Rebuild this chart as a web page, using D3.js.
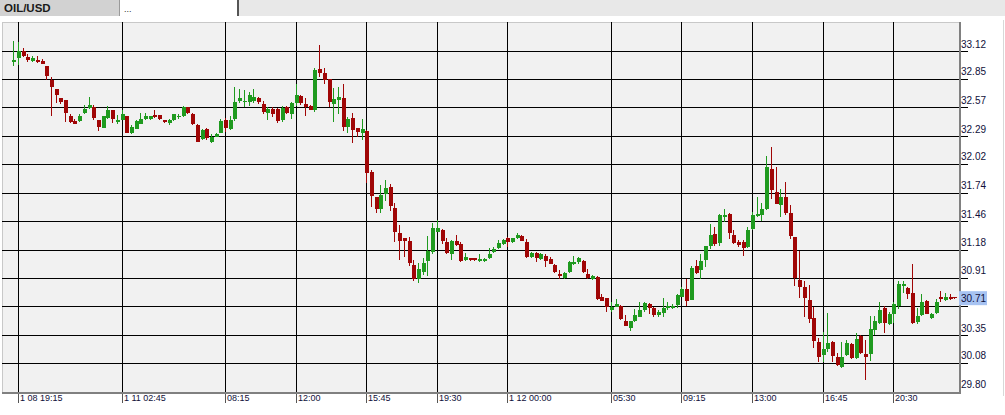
<!DOCTYPE html>
<html>
<head>
<meta charset="utf-8">
<script src="https://cdn.jsdelivr.net/npm/d3@7"></script>
<style>
html,body{margin:0;padding:0;background:#fff;}
svg{display:block;}
text{font-family:"Liberation Sans",Arial,sans-serif;}
</style>
</head>
<body>
<svg id="chart" width="1005" height="415"></svg>
<script>
const symbol = "OIL/USD";
const currentPrice = 30.71;
const yTickValues = [33.12, 32.85, 32.57, 32.29, 32.02, 31.74, 31.46, 31.18, 30.91, 30.63, 30.35, 30.08, 29.80];
const xTickIndex = [1, 23, 45, 60, 75, 90, 105, 127, 142, 157, 172, 187];
const xTickLabels = ["1 08 19:15", "1 11 02:45", "08:15", "12:00", "15:45", "19:30", "1 12 00:00", "05:30", "09:15", "13:00", "16:45", "20:30"];

const opens = [33.01,33.05,33.12,33.06,33.02,33.03,33.02,32.97,32.84,32.75,32.66,32.64,32.49,32.44,32.44,32.52,32.56,32.57,32.45,32.37,
32.47,32.54,32.43,32.45,32.49,32.32,32.36,32.41,32.46,32.46,32.50,32.50,32.45,32.42,32.45,32.48,32.49,32.57,32.51,32.40,
32.26,32.36,32.23,32.28,32.32,32.45,32.36,32.46,32.63,32.62,32.62,32.63,32.66,32.60,32.52,32.55,32.55,32.45,32.57,32.51,
32.61,32.68,32.60,32.58,32.54,32.94,32.91,32.85,32.60,32.64,32.66,32.38,32.47,32.37,32.32,32.34,31.94,31.70,31.58,31.73,
31.79,31.59,31.35,31.30,31.27,31.03,30.90,30.97,31.07,31.16,31.36,31.37,31.26,31.14,31.27,31.24,31.08,31.10,31.10,31.07,
31.07,31.10,31.16,31.20,31.24,31.30,31.26,31.30,31.32,31.26,31.11,31.15,31.09,31.12,31.09,31.03,30.95,30.91,30.97,31.04,
31.06,31.07,30.95,30.90,30.92,30.72,30.71,30.59,30.62,30.63,30.49,30.42,30.49,30.53,30.59,30.65,30.61,30.55,30.57,30.61,
30.61,30.64,30.72,30.80,30.69,31.02,30.98,31.08,31.22,31.34,31.25,31.50,31.53,31.33,31.26,31.26,31.21,31.38,31.51,31.52,
31.58,31.97,31.75,31.62,31.70,31.54,31.31,30.89,30.82,30.69,30.52,30.28,30.16,30.21,30.28,30.14,30.04,30.16,30.26,30.13,
30.34,30.17,30.17,30.40,30.47,30.61,30.46,30.56,30.63,30.83,30.81,30.76,30.48,30.55,30.68,30.52,30.57,30.72,30.69,30.72,
30.72];
const highs = [33.22,33.21,33.15,33.09,33.07,33.07,33.04,32.97,32.87,32.75,32.66,32.64,32.51,32.46,32.51,32.59,32.67,32.59,32.45,32.49,
32.58,32.54,32.50,32.54,32.49,32.40,32.45,32.52,32.52,32.49,32.54,32.50,32.45,32.46,32.51,32.51,32.58,32.57,32.52,32.41,
32.36,32.37,32.31,32.32,32.46,32.47,32.49,32.77,32.75,32.74,32.72,32.75,32.67,32.63,32.57,32.57,32.56,32.58,32.58,32.62,
32.80,32.69,32.66,32.59,32.95,33.18,32.95,32.85,32.76,32.77,32.80,32.48,32.52,32.37,32.46,32.35,31.96,31.70,31.81,31.86,
31.82,31.64,31.42,31.30,31.31,31.08,31.05,31.10,31.32,31.44,31.47,31.38,31.30,31.28,31.33,31.26,31.15,31.10,31.10,31.14,
31.10,31.20,31.21,31.28,31.29,31.31,31.30,31.35,31.33,31.29,31.16,31.16,31.15,31.14,31.11,31.04,30.98,30.97,31.07,31.12,
31.11,31.08,30.99,30.94,30.93,30.75,30.71,30.67,30.70,30.64,30.55,30.49,30.60,30.67,30.67,30.66,30.62,30.59,30.71,30.67,
30.65,30.75,30.82,30.90,31.02,31.08,31.14,31.22,31.43,31.40,31.53,31.58,31.54,31.37,31.28,31.28,31.40,31.55,31.70,31.64,
32.10,32.18,31.99,31.77,31.84,31.62,31.31,31.17,30.88,30.84,30.62,30.32,30.38,30.57,30.29,30.18,30.28,30.30,30.27,30.37,
30.35,30.30,30.54,30.54,30.67,30.63,30.58,30.67,30.88,30.88,30.82,31.04,30.61,30.75,30.69,30.57,30.70,30.78,30.76,30.75,
30.72];
const lows = [32.97,32.98,33.06,33.01,33.01,33.00,32.99,32.84,32.49,32.61,32.60,32.43,32.42,32.41,32.43,32.51,32.55,32.45,32.34,32.37,
32.46,32.42,32.41,32.45,32.32,32.31,32.36,32.41,32.45,32.45,32.47,32.45,32.42,32.40,32.44,32.46,32.48,32.51,32.40,32.23,
32.25,32.25,32.22,32.28,32.32,32.33,32.35,32.44,32.61,32.57,32.58,32.61,32.60,32.51,32.45,32.48,32.42,32.43,32.51,32.46,
32.58,32.59,32.49,32.54,32.53,32.87,32.80,32.57,32.43,32.51,32.34,32.32,32.22,32.28,32.25,31.83,31.60,31.54,31.54,31.66,
31.56,31.26,31.08,31.11,31.02,30.88,30.86,30.94,30.93,31.14,31.36,31.24,31.14,31.08,31.22,31.06,31.07,31.07,31.07,31.06,
31.06,31.09,31.15,31.19,31.23,31.21,31.25,31.29,31.27,31.10,31.10,31.06,31.08,31.01,31.04,30.96,30.90,30.90,30.96,31.03,
31.04,30.96,30.90,30.89,30.69,30.68,30.58,30.58,30.62,30.50,30.44,30.39,30.48,30.53,30.58,30.56,30.53,30.53,30.53,30.59,
30.60,30.61,30.72,30.63,30.69,30.95,30.90,31.01,31.19,31.22,31.22,31.45,31.29,31.24,31.21,31.12,31.20,31.37,31.50,31.46,
31.57,31.68,31.63,31.50,31.52,31.29,30.83,30.71,30.53,30.47,30.22,30.09,30.09,30.19,30.09,30.05,30.03,30.15,30.12,30.12,
30.17,29.91,30.10,30.35,30.46,30.37,30.45,30.47,30.60,30.76,30.70,30.46,30.46,30.54,30.56,30.51,30.56,30.67,30.68,30.69,
30.70];
const closes = [33.03,33.12,33.07,33.03,33.05,33.01,32.99,32.88,32.77,32.69,32.62,32.52,32.43,32.41,32.49,32.55,32.59,32.47,32.38,32.49,
32.54,32.46,32.45,32.51,32.32,32.38,32.44,32.46,32.49,32.49,32.48,32.46,32.43,32.45,32.51,32.49,32.57,32.52,32.41,32.23,
32.35,32.27,32.28,32.31,32.44,32.37,32.45,32.62,32.66,32.63,32.69,32.67,32.62,32.53,32.55,32.51,32.44,32.56,32.52,32.61,
32.69,32.61,32.57,32.54,32.93,32.91,32.84,32.62,32.65,32.67,32.38,32.46,32.35,32.33,32.36,31.93,31.71,31.58,31.72,31.78,
31.61,31.36,31.27,31.27,31.05,30.90,30.99,31.05,31.17,31.39,31.39,31.27,31.15,31.27,31.23,31.07,31.11,31.08,31.08,31.09,
31.09,31.14,31.19,31.25,31.28,31.26,31.30,31.33,31.27,31.11,31.15,31.10,31.14,31.07,31.04,30.97,30.93,30.96,31.06,31.06,
31.10,30.97,30.91,30.93,30.70,30.68,30.62,30.62,30.65,30.51,30.44,30.49,30.55,30.59,30.66,30.61,30.55,30.58,30.61,30.63,
30.63,30.74,30.80,30.68,31.00,30.96,31.07,31.22,31.33,31.24,31.52,31.52,31.35,31.25,31.23,31.20,31.37,31.52,31.53,31.58,
31.99,31.76,31.63,31.70,31.54,31.32,30.91,30.82,30.71,30.51,30.29,30.14,30.21,30.27,30.15,30.06,30.14,30.27,30.13,30.31,
30.18,30.14,30.41,30.49,30.59,30.47,30.56,30.65,30.85,30.85,30.75,30.47,30.54,30.67,30.56,30.56,30.67,30.70,30.72,30.70,
30.71];

const W = 1005, H = 415;
const plot = {left: 2, top: 22, right: 959, bottom: 392};
const svg = d3.select("#chart");

const x = d3.scaleLinear().domain([0, opens.length - 1]).range([13.3, 954.4]);
const y = d3.scaleLinear().domain([29.80, 33.12]).range([391.5, 51]);

// background
svg.append("rect").attr("width", W).attr("height", H).attr("fill", "#ffffff");

// header
const hdr = svg.append("g");
hdr.append("rect").attr("x", 0).attr("y", 0).attr("width", W).attr("height", 16).attr("fill", "#e8e8e8");
hdr.append("rect").attr("x", 0).attr("y", 0).attr("width", 120).attr("height", 16).attr("fill", "#d2d2d2");
hdr.append("rect").attr("x", 120).attr("y", 0).attr("width", 117).attr("height", 16).attr("fill", "#ffffff");
hdr.append("line").attr("x1", 119.5).attr("x2", 119.5).attr("y1", 0).attr("y2", 16).attr("stroke", "#9a9a9a");
hdr.append("line").attr("x1", 238).attr("x2", 238).attr("y1", 0).attr("y2", 16).attr("stroke", "#555").attr("stroke-width", 2);
hdr.append("text").attr("x", 4).attr("y", 11.5).attr("font-size", 11.5).attr("font-weight", "bold").attr("fill", "#1a1a1a").text(symbol);
hdr.append("text").attr("x", 124).attr("y", 12).attr("font-size", 9).attr("fill", "#333").text("...");

// plot area
svg.append("rect").attr("x", plot.left + 0.5).attr("y", plot.top + 0.5)
  .attr("width", plot.right - plot.left).attr("height", plot.bottom - plot.top)
  .attr("fill", "#f1f1f1").attr("stroke", "#c8c8c8");
// right axis outer border
svg.append("line").attr("x1", 1003.5).attr("x2", 1003.5).attr("y1", 20).attr("y2", 396).attr("stroke", "#d8d8d8");

const grid = svg.append("g").attr("shape-rendering", "crispEdges");
// horizontal grid lines + right ticks
grid.selectAll("line.h").data(yTickValues.slice(0, -1)).join("line")
  .attr("x1", plot.left).attr("x2", 968)
  .attr("y1", d => Math.round(y(d)) + 0.5).attr("y2", d => Math.round(y(d)) + 0.5)
  .attr("stroke", "#000");
// vertical grid lines
grid.selectAll("line.v").data(xTickIndex).join("line")
  .attr("x1", d => Math.round(x(d)) + 0.5).attr("x2", d => Math.round(x(d)) + 0.5)
  .attr("y1", plot.top).attr("y2", plot.bottom)
  .attr("stroke", "#000");
// bottom ticks
grid.selectAll("line.t").data(xTickIndex).join("line")
  .attr("x1", d => Math.round(x(d)) + 0.5).attr("x2", d => Math.round(x(d)) + 0.5)
  .attr("y1", plot.bottom).attr("y2", 403)
  .attr("stroke", "#555");

// candles
const candles = svg.append("g").attr("shape-rendering", "crispEdges");
const idx = d3.range(opens.length);
const col = i => closes[i] >= opens[i] ? "#1f9a1f" : "#a00606";
candles.selectAll("line.w").data(idx).join("line")
  .attr("x1", i => Math.round(x(i)) + 0.5).attr("x2", i => Math.round(x(i)) + 0.5)
  .attr("y1", i => y(highs[i])).attr("y2", i => y(lows[i]))
  .attr("stroke", col);
candles.selectAll("rect.b").data(idx).join("rect")
  .attr("x", i => Math.round(x(i)) - 1.5)
  .attr("width", 4)
  .attr("y", i => y(Math.max(opens[i], closes[i])))
  .attr("height", i => Math.max(1, Math.abs(y(opens[i]) - y(closes[i]))))
  .attr("fill", col);

// plot shadow border (right / bottom)
svg.append("rect").attr("x", plot.right).attr("y", plot.top).attr("width", 2).attr("height", plot.bottom - plot.top + 2).attr("fill", "#808080");
svg.append("rect").attr("x", plot.left).attr("y", plot.bottom).attr("width", plot.right - plot.left + 2).attr("height", 2).attr("fill", "#808080");

// y labels
svg.append("g").selectAll("text").data(yTickValues).join("text")
  .attr("x", 961).attr("y", d => y(d) - 3.5)
  .attr("font-size", 10).attr("fill", "#10103a")
  .text(d => d.toFixed(2));

// current price highlight
const cp = svg.append("g");
cp.append("rect").attr("x", 959).attr("y", y(currentPrice) - 7).attr("width", 28).attr("height", 14).attr("fill", "#a7c3f2");
cp.append("text").attr("x", 961).attr("y", y(currentPrice) + 4).attr("font-size", 10).attr("fill", "#10103a").text(currentPrice.toFixed(2));

// x labels
svg.append("g").selectAll("text").data(xTickIndex).join("text")
  .attr("x", d => Math.round(x(d)) + 2).attr("y", 401)
  .attr("font-size", 9).attr("fill", "#10103a")
  .text((d, i) => xTickLabels[i]);
</script>
</body>
</html>
